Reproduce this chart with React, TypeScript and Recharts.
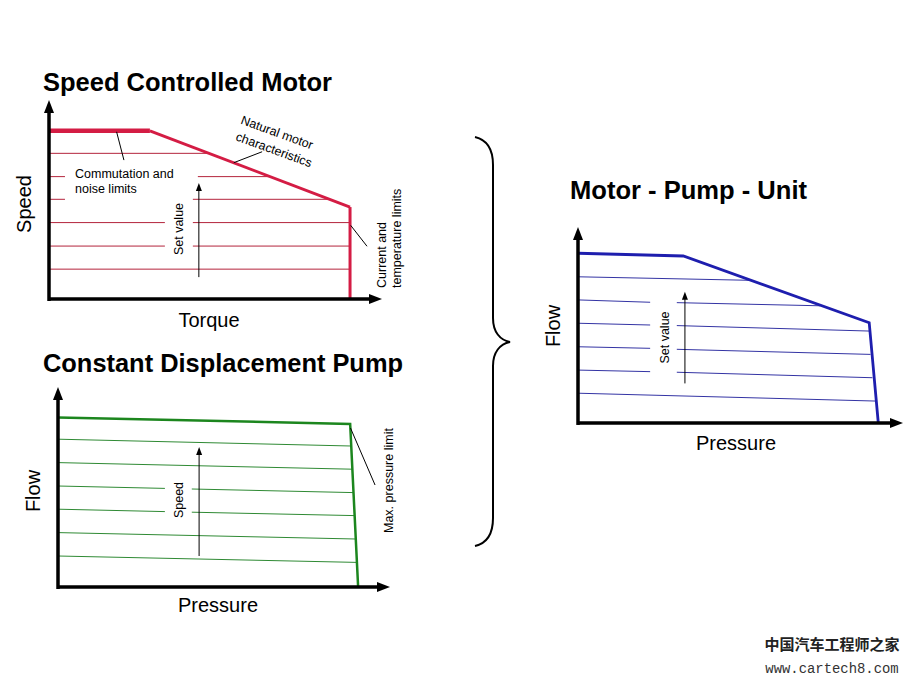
import React from 'react';
import { LineChart, Line, XAxis, YAxis, ReferenceLine, ReferenceDot } from 'recharts';

type Pt = { x: number; y: number };

// ---------- Speed Controlled Motor (torque %, speed %) ----------
const motorCommutation: Pt[] = [{ x: 0, y: 84.5 }, { x: 30.3, y: 84.5 }];
const motorNatural: Pt[] = [{ x: 30.3, y: 84.5 }, { x: 90.4, y: 46.2 }];
const motorCurrentLimit: Pt[] = [{ x: 90.4, y: 46.2 }, { x: 90.4, y: 0 }];
const motorSetLevels = [73.2, 61.5, 50.1, 38.4, 26.6, 15.0];
const motorSetSpans: number[][][] = [
  [[0, 47.9]],
  [[0, 4.8], [44.7, 66.3]],
  [[0, 4.8], [43.2, 84.3]],
  [[0, 34.8], [43.2, 90.4]],
  [[0, 34.8], [43.2, 90.4]],
  [[0, 90.4]],
];
const motorSetArrow: Pt[] = [{ x: 45, y: 11 }, { x: 45, y: 58.3 }];
const motorLeaders: Pt[][] = [
  [{ x: 20.3, y: 84 }, { x: 22.5, y: 69.8 }],
  [{ x: 55.5, y: 68.5 }, { x: 64, y: 74 }],
  [{ x: 90.6, y: 37 }, { x: 95.5, y: 26.5 }],
];

// ---------- Constant Displacement Pump (pressure %, flow %) ----------
const pumpCurve: Pt[] = [{ x: 0, y: 84.8 }, { x: 88, y: 81.5 }, { x: 90.4, y: 0 }];
const pumpSetLines: Pt[][][] = [
  [[{ x: 0, y: 73.9 }, { x: 88.3, y: 70.5 }]],
  [[{ x: 0, y: 62.2 }, { x: 88.6, y: 58.9 }]],
  [[{ x: 0, y: 50.5 }, { x: 32.2, y: 49.3 }], [{ x: 40.3, y: 49.0 }, { x: 89.0, y: 47.2 }]],
  [[{ x: 0, y: 38.9 }, { x: 32.2, y: 37.7 }], [{ x: 40.3, y: 37.4 }, { x: 89.3, y: 35.7 }]],
  [[{ x: 0, y: 27.2 }, { x: 89.7, y: 24.0 }]],
  [[{ x: 0, y: 15.5 }, { x: 90.0, y: 12.3 }]],
];
const pumpSpeedArrow: Pt[] = [{ x: 42.5, y: 15.5 }, { x: 42.5, y: 70 }];
const pumpLeaders: Pt[][] = [[{ x: 88.1, y: 79.5 }, { x: 95.5, y: 51 }]];

// ---------- Motor - Pump - Unit (pressure %, flow %) ----------
const unitCurve: Pt[] = [{ x: 0, y: 86.6 }, { x: 32.4, y: 85.2 }, { x: 89.6, y: 51.2 }, { x: 92.4, y: 0 }];
const unitSetLines: Pt[][][] = [
  [[{ x: 0, y: 74.6 }, { x: 52.9, y: 72.8 }]],
  [[{ x: 0, y: 62.8 }, { x: 22.2, y: 61.6 }], [{ x: 30.4, y: 61.4 }, { x: 74.5, y: 59.8 }]],
  [[{ x: 0, y: 50.9 }, { x: 22.2, y: 50.0 }], [{ x: 30.4, y: 49.7 }, { x: 89.8, y: 46.9 }]],
  [[{ x: 0, y: 38.9 }, { x: 22.2, y: 38.1 }], [{ x: 30.4, y: 37.6 }, { x: 90.0, y: 35.0 }]],
  [[{ x: 0, y: 27.0 }, { x: 22.2, y: 26.2 }], [{ x: 30.4, y: 25.9 }, { x: 90.6, y: 23.1 }]],
  [[{ x: 0, y: 15.2 }, { x: 91.6, y: 11.2 }]],
];
const unitSetArrow: Pt[] = [{ x: 32.9, y: 20.2 }, { x: 32.9, y: 67 }];

const FONT = '"Liberation Sans", Arial, Helvetica, sans-serif';

const HeadRight = (p: any) => (
  <path d={`M${p.cx},${p.cy}L${p.cx - 13},${p.cy - 5}L${p.cx - 13},${p.cy + 5}Z`} fill="#000" />
);
const HeadUp = (p: any) => (
  <path d={`M${p.cx},${p.cy}L${p.cx - 5},${p.cy + 13}L${p.cx + 5},${p.cy + 13}Z`} fill="#000" />
);
const SmallHeadUp = (p: any) => (
  <path d={`M${p.cx},${p.cy}L${p.cx - 3},${p.cy + 8}L${p.cx + 3},${p.cy + 8}Z`} fill="#000" />
);

const axisMarks = (k: string) => [
  <ReferenceLine key={k + 'xa'} segment={[{ x: 0, y: 0 }, { x: 97, y: 0 }]} stroke="#000" strokeWidth={3.5} ifOverflow="visible" />,
  <ReferenceLine key={k + 'ya'} segment={[{ x: 0, y: -1 }, { x: 0, y: 96 }]} stroke="#000" strokeWidth={3.5} ifOverflow="visible" />,
  <ReferenceDot key={k + 'xh'} x={100} y={0} r={1} shape={HeadRight} ifOverflow="visible" />,
  <ReferenceDot key={k + 'yh'} x={0} y={100} r={1} shape={HeadUp} ifOverflow="visible" />,
];

const arrowMarks = (k: string, a: Pt[]) => [
  <ReferenceLine key={k + 'al'} segment={[a[0], { x: a[1].x, y: a[1].y - 2 }]} stroke="#000" strokeWidth={1} ifOverflow="visible" />,
  <ReferenceDot key={k + 'ah'} x={a[1].x} y={a[1].y} r={1} shape={SmallHeadUp} ifOverflow="visible" />,
];

const leaderMarks = (k: string, ls: Pt[][]) =>
  ls.map((l, i) => (
    <ReferenceLine key={k + 'ld' + i} segment={[l[0], l[1]]} stroke="#000" strokeWidth={1} ifOverflow="visible" />
  ));

const segLines = (k: string, segs: Pt[][], color: string, w = 1) =>
  segs.map((s, i) => (
    <Line
      key={k + i}
      data={s}
      dataKey="y"
      type="linear"
      stroke={color}
      strokeWidth={w}
      dot={false}
      activeDot={false}
      isAnimationActive={false}
      legendType="none"
    />
  ));

const axes = [
  <XAxis key="x" type="number" dataKey="x" domain={[0, 100]} hide />,
  <YAxis key="y" type="number" dataKey="y" domain={[0, 100]} hide />,
];

const motorSetSegs: Pt[][] = motorSetSpans.flatMap((spans, i) =>
  spans.map(([a, b]) => [{ x: a, y: motorSetLevels[i] }, { x: b, y: motorSetLevels[i] }])
);

const M = { top: 20, right: 20, bottom: 20, left: 20 };

export default function App() {
  return (
    <div style={{ position: 'absolute', left: 0, top: 0, width: 910, height: 683, background: '#fff', overflow: 'hidden' }}>
      {/* Speed Controlled Motor */}
      <div style={{ position: 'absolute', left: 29, top: 80 }}>
        <LineChart width={373} height={239} margin={M}>
          {axes}
          {segLines('ms', motorSetSegs, '#b4243c', 1)}
          {segLines('mc', [motorCommutation], '#d41c44', 4.5)}
          {segLines('mn', [motorNatural, motorCurrentLimit], '#d41c44', 3)}
          {axisMarks('m')}
          {arrowMarks('m', motorSetArrow)}
          {leaderMarks('m', motorLeaders)}
        </LineChart>
      </div>
      {/* Constant Displacement Pump */}
      <div style={{ position: 'absolute', left: 38, top: 367 }}>
        <LineChart width={372} height={240} margin={M}>
          {axes}
          {segLines('ps', pumpSetLines.flat(), '#2f8a34', 1)}
          {segLines('pc', [pumpCurve], '#1c861e', 2.5)}
          {axisMarks('p')}
          {arrowMarks('p', pumpSpeedArrow)}
          {leaderMarks('p', pumpLeaders)}
        </LineChart>
      </div>
      {/* Motor - Pump - Unit */}
      <div style={{ position: 'absolute', left: 558, top: 207 }}>
        <LineChart width={352} height={236} margin={{ top: 20, right: 7, bottom: 20, left: 20 }}>
          {axes}
          {segLines('us', unitSetLines.flat(), '#3434a4', 1)}
          {segLines('uc', [unitCurve], '#1e1eae', 2.8)}
          {axisMarks('u')}
          {arrowMarks('u', unitSetArrow)}
        </LineChart>
      </div>

      <svg width={910} height={683} style={{ position: 'absolute', left: 0, top: 0, pointerEvents: 'none' }} fontFamily={FONT}>
        {/* titles */}
        <g fontWeight="bold" fontSize={25.5} fill="#000">
          <text x={43} y={90.5} textLength={289} lengthAdjust="spacingAndGlyphs">Speed Controlled Motor</text>
          <text x={43} y={371.5} textLength={360} lengthAdjust="spacingAndGlyphs">Constant Displacement Pump</text>
          <text x={570} y={198.5} textLength={237} lengthAdjust="spacingAndGlyphs">Motor - Pump - Unit</text>
        </g>
        {/* axis labels */}
        <g fontSize={20} fill="#000">
          <text transform="translate(31,204) rotate(-90)" textAnchor="middle">Speed</text>
          <text x={209} y={326.5} textAnchor="middle">Torque</text>
          <text transform="translate(40,491) rotate(-90)" textAnchor="middle">Flow</text>
          <text x={218} y={611.5} textAnchor="middle">Pressure</text>
          <text transform="translate(560,326) rotate(-90)" textAnchor="middle">Flow</text>
          <text x={736} y={450} textAnchor="middle">Pressure</text>
        </g>
        {/* annotations */}
        <g fontSize={12.5} fill="#000">
          <text x={75} y={178}>Commutation and</text>
          <text x={75} y={193}>noise limits</text>
          <text transform="translate(240,123.5) rotate(20)">Natural motor</text>
          <text transform="translate(235,140) rotate(20)">characteristics</text>
          <text transform="translate(386,288) rotate(-90)">Current and</text>
          <text transform="translate(401,288) rotate(-90)">temperature limits</text>
          <text transform="translate(182.5,229) rotate(-90)" textAnchor="middle">Set value</text>
          <text transform="translate(182.5,500) rotate(-90)" textAnchor="middle">Speed</text>
          <text transform="translate(392.5,533) rotate(-90)">Max. pressure limit</text>
          <text transform="translate(669,337.5) rotate(-90)" textAnchor="middle">Set value</text>
        </g>
        {/* brace */}
        <path
          d="M475,137 C488,140 493,150 493,165 L493,318 C493,332 500,340 510,342 C500,344 493,352 493,366 L493,518 C493,533 488,543 475,546"
          fill="none"
          stroke="#000"
          strokeWidth={2}
        />
        {/* watermark */}
        <text x={832} y={650} textAnchor="middle" fontSize={15} fontWeight={700} fill="#222" fontFamily='"Noto Sans CJK SC", sans-serif'>中国汽车工程师之家</text>
        <text x={832} y={673} textAnchor="middle" fontSize={13.9} fill="#333" fontFamily='"Liberation Mono", "DejaVu Sans Mono", monospace'>www.cartech8.com</text>
      </svg>
    </div>
  );
}
